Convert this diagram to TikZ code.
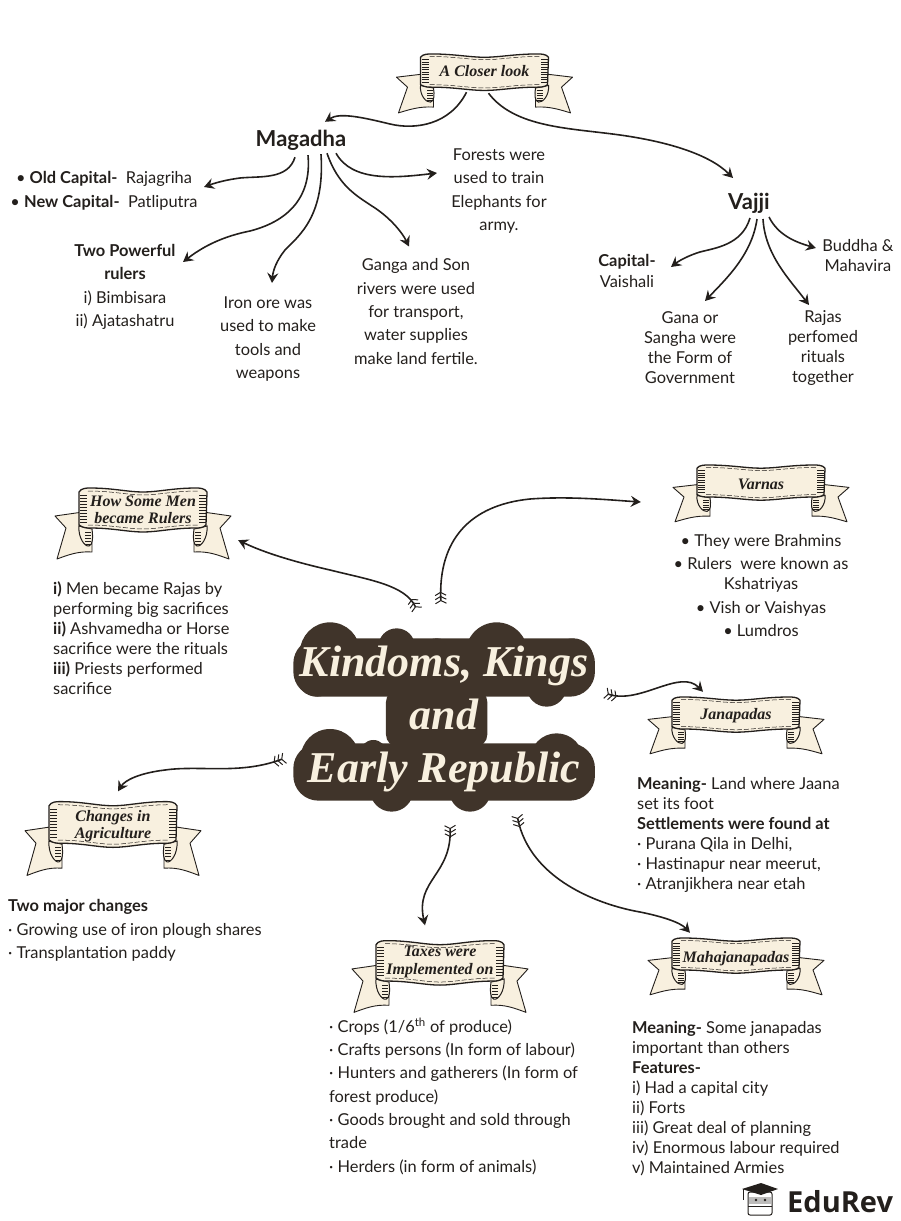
\documentclass[tikz,border=0pt]{standalone}
\usepackage{fontspec}
\setmainfont{Lato}
\newfontfamily\ribbonfont{Liberation Serif}
\newfontfamily\logofont{Open Sans}
\usepackage{xcolor}
\usetikzlibrary{positioning,calc,arrows.meta}
\definecolor{ink}{HTML}{231F1C}
\definecolor{bark}{HTML}{40342A}
\definecolor{cream}{HTML}{F8F0DF}
\tikzset{
    txt/.style={font=\fontsize{16.4}{#1}\selectfont, text=ink, inner sep=0pt, align=center},
    txt/.default=20,
    lefttxt/.style={txt=#1, align=left, anchor=west},
    lefttxt/.default=20,
    head/.style={font=\fontsize{22}{24}\selectfont\bfseries, text=ink, inner sep=0pt, minimum height=24pt},
    ribbontxt/.style={font=\fontsize{16}{17.5}\selectfont\ribbonfont\bfseries\itshape, text=ink, inner sep=0pt, align=center, minimum width=176pt, minimum height=#1},
    flow/.style={draw=ink, line width=1.6pt, -{Stealth[length=10pt,width=11pt,inset=3.5pt]}},
    fletched/.style={draw=ink, line width=1.6pt, arrows={{Straight Barb[reversed,length=3pt,width=11pt,line width=1pt] Straight Barb[reversed,length=3pt,width=11pt,line width=1pt] Straight Barb[reversed,length=3pt,width=11pt,line width=1pt]}-{Stealth[length=10pt,width=11pt,inset=3.5pt]}}},
    ribbon/.pic={
        \foreach \s in {-1,1} {
            \begin{scope}[xscale=\s]
                \draw[ink, fill=cream, line width=.9pt, line join=round] (60,-11) -- (88,-7) -- (77,5) -- (86,36) .. controls (75,32) and (65,28) .. (51,29) -- (51,9) -- (60,4) -- cycle;
                \draw[ink, fill=cream, line width=1pt] (64,3) .. controls (65,15) and (58,24) .. (54,23) .. controls (50,22) and (50,14) .. (51,6) -- cycle;
                \foreach \h in {9,12,...,21}
                    \draw[ink, line width=.7pt] (52,\h) -- (58,\h);
            \end{scope}
        }
        \draw[ink, fill=cream, line width=1.3pt, line join=round] (-64,-31) .. controls (-62,-35) and (-56,-35) .. (-53,-35) .. controls (-30,-35) and (-15,-31) .. (0,-31) .. controls (15,-31) and (30,-35) .. (53,-35) .. controls (56,-35) and (62,-35) .. (64,-31) -- (63,2) .. controls (60,5) and (56,5) .. (53,5) .. controls (30,5) and (15,9) .. (0,9) .. controls (-15,9) and (-30,5) .. (-53,5) .. controls (-56,5) and (-60,5) .. (-64,2) -- cycle;
        \foreach \h in {-28,-25,...,-1} {
            \draw[ink, line width=.7pt] (-63,\h) -- (-56,\h);
            \draw[ink, line width=.7pt] (63,\h) -- (56,\h);
        }
        \draw[ink, line width=.5pt, dash pattern=on 5pt off 2pt] (-55,-32) .. controls (-30,-32) and (-15,-28) .. (0,-28) .. controls (15,-28) and (30,-32) .. (55,-32);
        \draw[ink, line width=.5pt, dash pattern=on 5pt off 2pt] (-55,2) .. controls (-30,2) and (-15,6) .. (0,6) .. controls (15,6) and (30,2) .. (55,2);
    },
}
\begin{document}
\begin{tikzpicture}[x=1pt, y=-1pt]
    \useasboundingbox (0,0) rectangle (900,1221);

    % ribbons
    \pic[yscale=.83] at (484.5,83) {ribbon};
    \pic at (143,523) {ribbon};
    \pic[yscale=.8] at (761,493) {ribbon};
    \pic[yscale=.8] at (736,725) {ribbon};
    \pic[yscale=1.04] at (113,838) {ribbon};
    \pic[yscale=1.01] at (440,976) {ribbon};
    \pic[yscale=.8] at (736,966) {ribbon};

    \node[ribbontxt=60pt] (closer) at (484.5,71) {A Closer look};
    \node[ribbontxt=72pt] (rulersban) at (143,510) {How Some Men\\became Rulers};
    \node[ribbontxt=58pt] (varnas) at (761,484) {Varnas};
    \node[ribbontxt=58pt] (janapadas) at (736,716) {Janapadas};
    \node[ribbontxt=75pt] (changes) at (113,826) {Changes in\\Agriculture};
    \node[ribbontxt=73pt] (taxes) at (440,962) {Taxes were\\Implemented on};
    \node[ribbontxt=58pt] (maha) at (736,959) {Mahajanapadas};

    % top half
    \node[head] (magadha) at (301,140) {Magadha};
    \node[head] (vajji) at (749,203) {Vajji};
    \node[txt=24] (oldcap) at (104,191) {\textbullet\ \textbf{Old Capital-}\ \ Rajagriha\\\textbullet\ \textbf{New Capital-}\ \ Patliputra};
    \node[txt=23.5] (twopower) at (125,287) {\textbf{Two Powerful}\\\textbf{rulers}\\i) Bimbisara\\ii) Ajatashatru};
    \node[txt=23.3] (ironore) at (268,339) {Iron ore was\\used to make\\tools and\\weapons};
    \node[txt=23.3] (ganga) at (416,311.5) {Ganga and Son\\rivers were used\\for transport,\\water supplies\\make land fertile.};
    \node[txt=23.3] (forests) at (499,191) {Forests were\\used to train\\Elephants for\\army.};
    \node[txt=21] (capital) at (627,270.5) {\textbf{Capital-}\\Vaishali};
    \node[txt=20] (gana) at (690,348) {Gana or\\Sangha were\\the Form of\\Government};
    \node[txt=20] (rajas) at (823,348) {Rajas\\perfomed\\rituals\\together};
    \node[txt=20] (buddha) at (858,256) {Buddha \&\\Mahavira};

    \draw[flow] ($(closer.south)+(-18,-9)$) .. controls (450,125) and (415,130) .. (390,124) .. controls (365,118) and (340,112) .. ($(magadha.north)+(24,-6)$);
    \draw[flow] ($(closer.south)+(4,-8)$) .. controls (515,128) and (570,128) .. (620,135) .. controls (670,142) and (710,155) .. ($(vajji)+(-16,-25)$);
    \draw[flow] ($(magadha.south)+(-6,5)$) .. controls (288,180) and (260,176) .. (240,178) .. controls (225,180) and (215,183) .. ($(oldcap)+(100,-4)$);
    \draw[flow] ($(magadha.south)+(7,3)$) .. controls (312,200) and (285,222) .. (250,231) .. controls (225,236) and (205,245) .. ($(twopower)+(58,-25)$);
    \draw[flow] ($(magadha.south)+(20,2)$) .. controls (325,215) and (300,235) .. (285,250) .. controls (277,260) and (273,270) .. ($(ironore)+(4,-56)$);
    \draw[flow] ($(magadha.south)+(26,1)$) .. controls (338,185) and (355,195) .. (375,208) .. controls (390,218) and (402,232) .. ($(ganga)+(-7,-65)$);
    \draw[flow] ($(magadha.south)+(35,1)$) .. controls (352,182) and (395,178) .. ($(forests)+(-62,-18)$);
    \draw[flow] ($(vajji)+(1,15)$) .. controls (742,245) and (715,248) .. (700,252) .. controls (690,255) and (680,260) .. ($(capital)+(44,-3.5)$);
    \draw[flow] ($(vajji)+(8,16)$) .. controls (752,255) and (725,280) .. ($(gana)+(15,-47)$);
    \draw[flow] ($(vajji)+(14,16)$) .. controls (765,255) and (790,280) .. ($(rajas)+(-14,-43)$);
    \draw[flow] ($(vajji)+(20,14)$) .. controls (778,235) and (795,242) .. ($(buddha)+(-42,-8)$);

    % title
    \begin{scope}[shift={(280,590)}, x=.3333pt, y=-.3333pt]
        \fill[bark, rounded corners=25pt] (40,145) rectangle (945,320);
        \fill[bark, rounded corners=12pt] (318,300) rectangle (622,470);
        \fill[bark, rounded corners=25pt] (40,460) rectangle (945,632);
        \foreach \cx/\cy/\r in {150/187/90, 350/170/55, 470/195/50, 650/190/93, 800/290/60, 880/205/60, 110/260/60, 150/505/88, 280/490/40, 830/510/80, 570/603/62, 335/600/65, 180/585/45, 730/570/55} {
            \fill[bark] (\cx,\cy) circle (\r);
        }
    \end{scope}
    \node[font=\fontsize{44}{53}\selectfont\ribbonfont\bfseries\itshape, text=cream, inner sep=0pt, align=center, minimum width=322pt, minimum height=220pt] (title) at (444,719) {Kindoms, Kings\\and\\Early Republic};

    % bottom half
    \node[lefttxt] (howmen) at (53,638) {\textbf{i)} Men became Rajas by\\performing big sacrifices\\\textbf{ii)} Ashvamedha or Horse\\sacrifice were the rituals\\\textbf{iii)} Priests performed\\sacrifice};
    \node[txt=20] (varnalist) at (761,586) {\textbullet\ They were Brahmins\\[3pt]\textbullet\ Rulers\ \ were known as\\Kshatriyas\\[4pt]\textbullet\ Vish or Vaishyas\\[3pt]\textbullet\ Lumdros};
    \node[lefttxt] (janalist) at (637,835) {\textbf{Meaning-} Land where Jaana\\set its foot\\\textbf{Settlements were found at}\\· Purana Qila in Delhi,\\· Hastinapur near meerut,\\· Atranjikhera near etah};
    \node[lefttxt=23.5] (changelist) at (8,930.5) {\textbf{Two major changes}\\· Growing use of iron plough shares\\· Transplantation paddy};
    \node[lefttxt=23.3] (taxlist) at (329,1096) {· Crops (1/6\textsuperscript{th} of produce)\\· Crafts persons (In form of labour)\\· Hunters and gatherers (In form of\\forest produce)\\· Goods brought and sold through\\trade\\· Herders (in form of animals)};
    \node[lefttxt] (mahalist) at (632,1099) {\textbf{Meaning-} Some janapadas\\important than others\\\textbf{Features-}\\i) Had a capital city\\ii) Forts\\iii) Great deal of planning\\iv) Enormous labour required\\v) Maintained Armies};

    \draw[fletched] ($(title)+(-27,-109)$) .. controls (405,585) and (370,580) .. (330,570) .. controls (295,562) and (265,553) .. ($(rulersban.south east)+(7,-6)$);
    \draw[fletched] ($(title)+(-3,-115)$) .. controls (438,540) and (470,505) .. (530,499) .. controls (570,496) and (610,500) .. ($(varnas.west)+(-32,18)$);
    \draw[fletched] ($(title)+(161,-26)$) .. controls (640,705) and (680,668) .. ($(janapadas.north)+(-33,5)$);
    \draw[fletched] ($(title)+(-159,39)$) .. controls (240,775) and (200,765) .. (165,770) .. controls (140,773) and (125,780) .. ($(changes.north)+(5,3)$);
    \draw[fletched] ($(title)+(6,106)$) .. controls (452,875) and (415,880) .. ($(taxes.north)+(-15,0)$);
    \draw[fletched] ($(title)+(73,96)$) .. controls (530,880) and (600,905) .. (640,912) .. controls (660,916) and (680,922) .. ($(maha.north)+(-46,3)$);

    % logo
    \node[font=\fontsize{29}{30}\selectfont\logofont\bfseries, text=ink, inner sep=0pt, anchor=west] (edurev) at (787,1202) {EduRev};
    \draw[ink, fill=white, line width=1pt, rounded corners=2pt] (748,1192) rectangle (772,1215);
    \fill[ink!30] (749,1197) rectangle (771,1204);
    \draw[ink, line width=.8pt] (748,1206) -- (772,1206);
    \fill[ink] (756,1200) circle (1.4) (765,1200) circle (1.4);
    \fill[ink] (742,1189) -- (761,1183) -- (778,1189) -- (761,1195) -- cycle;
    \draw[ink, line width=1pt] (743,1189) -- (743,1200);
\end{tikzpicture}
\end{document}
